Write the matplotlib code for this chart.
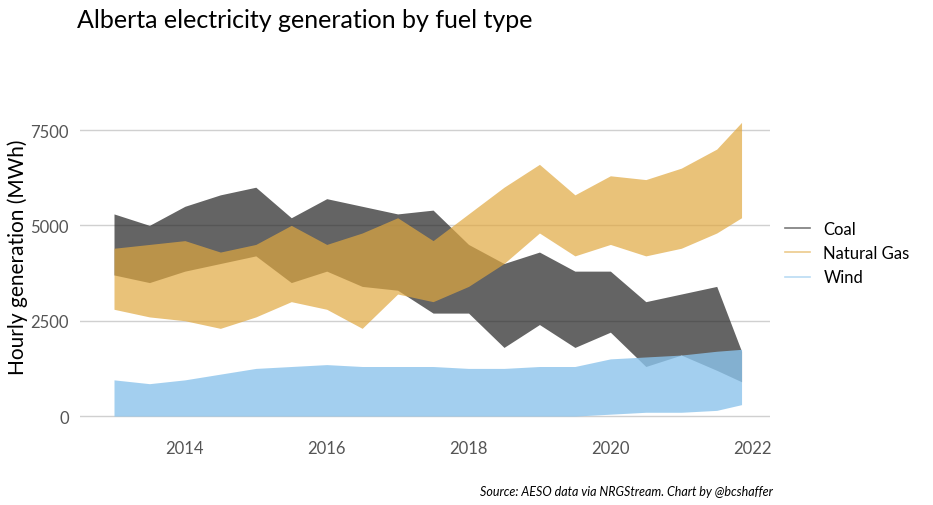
import numpy as np
import matplotlib.pyplot as plt

plt.rcParams['font.family'] = ['Lato', 'DejaVu Sans']

# envelope values (decimal year, low, high) in MWh
years = [2013.0, 2013.5, 2014.0, 2014.5, 2015.0, 2015.5, 2016.0, 2016.5, 2017.0, 2017.5,
         2018.0, 2018.5, 2019.0, 2019.5, 2020.0, 2020.5, 2021.0, 2021.5, 2021.85]
coal_lo = [3700, 3500, 3800, 4000, 4200, 3500, 3800, 3400, 3300, 2700,
           2700, 1800, 2400, 1800, 2200, 1300, 1600, 1200, 900]
coal_hi = [5300, 5000, 5500, 5800, 6000, 5200, 5700, 5500, 5300, 5400,
           4500, 4000, 4300, 3800, 3800, 3000, 3200, 3400, 1700]
gas_lo = [2800, 2600, 2500, 2300, 2600, 3000, 2800, 2300, 3200, 3000,
          3400, 4000, 4800, 4200, 4500, 4200, 4400, 4800, 5200]
gas_hi = [4400, 4500, 4600, 4300, 4500, 5000, 4500, 4800, 5200, 4600,
          5300, 6000, 6600, 5800, 6300, 6200, 6500, 7000, 7700]
wind_lo = [0, 0, 0, 0, 0, 0, 0, 0, 0, 0, 0, 0, 0, 0, 50, 100, 100, 150, 300]
wind_hi = [950, 850, 950, 1100, 1250, 1300, 1350, 1300, 1300, 1300,
           1250, 1250, 1300, 1300, 1500, 1550, 1600, 1700, 1750]

fig = plt.figure(figsize=(9.33, 5.06), dpi=100)
ax = fig.add_axes([0.0857, 0.150, 0.7395, 0.682])

series = [("Coal", coal_lo, coal_hi, "#222222", 0.7),
          ("Natural Gas", gas_lo, gas_hi, "#E0A840", 0.7),
          ("Wind", wind_lo, wind_hi, "#8CC4EC", 0.8)]
for name, lo, hi, col, a in series:
    ax.fill_between(years, lo, hi, color=col, alpha=a, lw=0)
    ax.plot([], [], color=col, alpha=0.6, lw=1.2, label=name)

ax.set_xlim(2012.52, 2022.25)
ax.set_ylim(-341, 8706)
ax.set_xticks([2014, 2016, 2018, 2020, 2022])
ax.set_yticks([0, 2500, 5000, 7500])
ax.grid(axis='y', color='#d0d0d0', lw=1)
ax.set_axisbelow(True)
for s in ax.spines.values():
    s.set_visible(False)
ax.tick_params(length=0, labelsize=12, colors='#555555', pad=8)
ax.set_ylabel("Hourly generation (MWh)", fontsize=15, labelpad=2)
ax.legend(loc='center left', bbox_to_anchor=(1.0, 0.51), frameon=False, fontsize=12,
          handlelength=1.5)
fig.text(0.082, 0.945, "Alberta electricity generation by fuel type", fontsize=18)
fig.text(0.828, 0.02, "Source: AESO data via NRGStream. Chart by @bcshaffer",
         fontsize=9, style='italic', ha='right')
fig.savefig("out.png")
